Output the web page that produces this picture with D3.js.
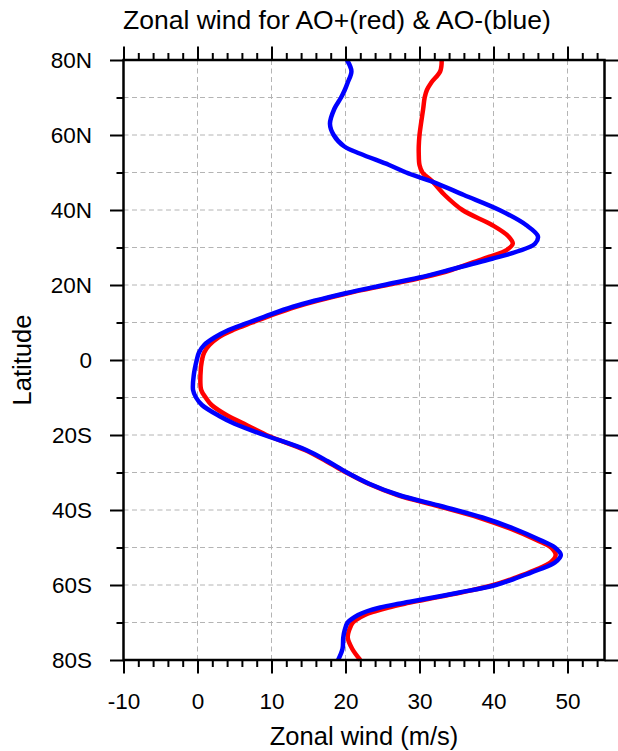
<!DOCTYPE html>
<html>
<head>
<meta charset="utf-8">
<script src="https://cdn.jsdelivr.net/npm/d3@7"></script>
<style>
  body { margin: 0; background: #fff; }
  text { font-family: "Liberation Sans", Arial, Helvetica, sans-serif; fill: #000; }
</style>
</head>
<body>
<div id="chart"></div>
<script>
// latitude of each sample (deg, S negative)
var lats = [80, 77, 74, 72, 70, 67, 63, 60, 57, 55, 52, 50, 47.5, 44, 40, 36, 33, 31, 29, 27, 24, 22,
            20, 17.8, 14.2, 11.5, 10, 8, 6, 4, 2, 0, -4, -8, -10, -12, -15, -17, -20, -24, -27, -30,
            -33, -36, -39, -42, -45, -48, -50, -52, -54, -56, -58, -60, -62, -64, -65, -66, -67, -68,
            -70, -72, -74, -77, -80];

// AO+ (red) zonal wind, m/s
var aoPos = [33.0, 32.8, 31.6, 31.0, 30.7, 30.5, 30.2, 30.0, 29.9, 29.9, 30.0, 30.4, 31.8, 33.4, 35.8, 39.8, 42.0, 42.6, 41.5, 38.6, 34.3, 30.4,
             25.6, 20.3, 13.3, 9.4, 7.4, 4.8, 2.8, 1.6, 0.9, 0.6, 0.4, 0.5, 1.1, 1.9, 4.2, 6.3, 9.3, 14.5, 17.4, 20.1,
             23.1, 27.0, 32.6, 38.0, 42.3, 45.8, 47.8, 48.4, 47.7, 45.6, 43.0, 40.0, 35.6, 30.5, 28.0, 25.8, 24.0, 22.6,
             21.0, 20.5, 20.3, 20.9, 22.0];

// AO- (blue) zonal wind, m/s
var aoNeg = [20.2, 20.8, 20.3, 19.9, 19.4, 18.5, 17.9, 18.4, 19.8, 22.0, 25.9, 28.2, 31.8, 36.0, 40.8, 44.4, 46.0, 45.6, 43.3, 39.8, 34.0, 30.0,
             25.2, 20.0, 12.9, 9.0, 6.9, 4.2, 2.3, 0.9, 0.2, -0.1, -0.5, -0.6, -0.2, 0.6, 3.0, 5.0, 9.0, 14.7, 17.6, 20.2,
             23.2, 27.2, 33.0, 38.5, 42.8, 46.3, 48.3, 49.1, 48.3, 46.0, 43.3, 40.3, 35.4, 30.0, 27.2, 24.7, 22.9, 21.7,
             20.3, 19.9, 19.7, 19.6, 19.0];

var xMajor = [-10, 0, 10, 20, 30, 40, 50];
var xMinor = [-8, -6, -4, -2, 2, 4, 6, 8, 12, 14, 16, 18, 22, 24, 26, 28, 32, 34, 36, 38, 42, 44, 46, 48, 52, 54];
var yMajor = [80, 60, 40, 20, 0, -20, -40, -60, -80];
var yMinor = [70, 50, 30, 10, -10, -30, -50, -70];
var yLabels = ["80N", "60N", "40N", "20N", "0", "20S", "40S", "60S", "80S"];

var width = 618, height = 751;
var plotL = 123.5, plotR = 604.5, plotT = 60, plotB = 660;

var svg = d3.select("#chart").append("svg")
    .attr("width", width)
    .attr("height", height);

var x = d3.scaleLinear().domain([-10, 55]).range([plotL, plotR]);
var y = d3.scaleLinear().domain([80, -80]).range([plotT, plotB]);

// dashed grid
var grid = svg.append("g")
    .attr("stroke", "#b4b4b4")
    .attr("stroke-width", 1)
    .attr("stroke-dasharray", "5,3.5");
grid.selectAll(".gx").data(xMajor.slice(1))
    .enter().append("line")
    .attr("x1", function(d){ return x(d); }).attr("x2", function(d){ return x(d); })
    .attr("y1", plotT).attr("y2", plotB);
grid.selectAll(".gy").data(yMajor.slice(1, -1).concat(yMinor))
    .enter().append("line")
    .attr("y1", function(d){ return y(d); }).attr("y2", function(d){ return y(d); })
    .attr("x1", plotL).attr("x2", plotR);

// curves
var line = function(vals){
    return d3.line()
        .x(function(d){ return x(d); })
        .y(function(d, i){ return y(lats[i]); })
        .curve(d3.curveCatmullRom.alpha(0.5))(vals);
};

svg.append("path")
    .attr("d", line(aoPos))
    .attr("fill", "none")
    .attr("stroke", "#ff0000")
    .attr("stroke-width", 4.5);

svg.append("path")
    .attr("d", line(aoNeg))
    .attr("fill", "none")
    .attr("stroke", "#0000ff")
    .attr("stroke-width", 4.5);

// axes, ticks pointing outward
var bigTick = 13.5, smallTick = 7;

function styleAxis(g){
    g.select(".domain").remove();
    g.selectAll(".tick line").attr("stroke", "#000").attr("stroke-width", 2);
}

svg.append("g")
    .attr("transform", "translate(0," + plotB + ")")
    .call(d3.axisBottom(x).tickValues(xMinor).tickSize(smallTick).tickFormat(""))
    .call(styleAxis);
svg.append("g")
    .attr("transform", "translate(0," + plotB + ")")
    .call(d3.axisBottom(x).tickValues(xMajor).tickSize(bigTick).tickPadding(20)
        .tickFormat(function(d){ return String(d); }))
    .call(styleAxis)
    .selectAll("text").attr("font-size", 22.5).attr("dy", "0.71em");

svg.append("g")
    .attr("transform", "translate(0," + plotT + ")")
    .call(d3.axisTop(x).tickValues(xMinor).tickSize(smallTick).tickFormat(""))
    .call(styleAxis);
svg.append("g")
    .attr("transform", "translate(0," + plotT + ")")
    .call(d3.axisTop(x).tickValues(xMajor).tickSize(bigTick).tickFormat(""))
    .call(styleAxis);

svg.append("g")
    .attr("transform", "translate(" + plotL + ",0)")
    .call(d3.axisLeft(y).tickValues(yMinor).tickSize(smallTick).tickFormat(""))
    .call(styleAxis);
svg.append("g")
    .attr("transform", "translate(" + plotL + ",0)")
    .call(d3.axisLeft(y).tickValues(yMajor).tickSize(bigTick).tickPadding(18)
        .tickFormat(function(d, i){ return yLabels[i]; }))
    .call(styleAxis)
    .selectAll("text").attr("font-size", 22.5);

svg.append("g")
    .attr("transform", "translate(" + plotR + ",0)")
    .call(d3.axisRight(y).tickValues(yMinor).tickSize(smallTick).tickFormat(""))
    .call(styleAxis);
svg.append("g")
    .attr("transform", "translate(" + plotR + ",0)")
    .call(d3.axisRight(y).tickValues(yMajor).tickSize(bigTick).tickFormat(""))
    .call(styleAxis);

// frame
svg.append("rect")
    .attr("x", plotL).attr("y", plotT)
    .attr("width", plotR - plotL).attr("height", plotB - plotT)
    .attr("fill", "none")
    .attr("stroke", "#000")
    .attr("stroke-width", 2.5);

// titles
svg.append("text")
    .attr("x", 337).attr("y", 29)
    .attr("text-anchor", "middle")
    .attr("font-size", 26.5)
    .text("Zonal wind for AO+(red) & AO-(blue)");

svg.append("text")
    .attr("x", (plotL + plotR) / 2).attr("y", 745)
    .attr("text-anchor", "middle")
    .attr("font-size", 25.5)
    .text("Zonal wind (m/s)");

svg.append("text")
    .attr("transform", "translate(31,360) rotate(-90)")
    .attr("text-anchor", "middle")
    .attr("font-size", 25.5)
    .text("Latitude");
</script>
</body>
</html>
